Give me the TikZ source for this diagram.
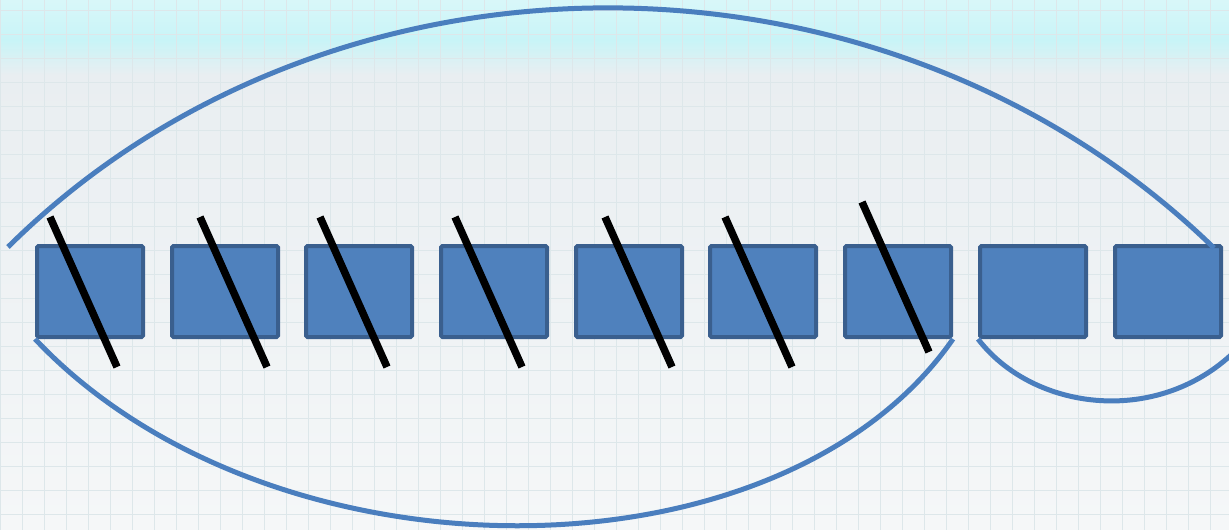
\documentclass[tikz,border=0pt]{standalone}
\usepackage{xcolor}
\usepackage{tikz}
\definecolor{tallyfill}{HTML}{4F81BD}
\definecolor{tallyedge}{HTML}{3A5F8E}
\definecolor{tallyline}{HTML}{4A7EBE}
\definecolor{bandcyan}{HTML}{C8F4F7}
\definecolor{paperlow}{HTML}{F5F7F8}
\definecolor{papertop}{HTML}{E9EEF1}
\definecolor{gridline}{HTML}{DDE7EA}
\tikzset{
  tallypicture/.style={x=1pt, y=-1pt},
  tallybox/.style={draw=tallyedge, fill=tallyfill, line width=4pt, rounded corners=1.5pt, inner sep=0pt, minimum width=106pt, minimum height=91pt},
  tallyslash/.style={black, line width=7.5pt},
  tallyarc/.style={tallyline, line width=5pt}
}
\begin{document}
\begin{tikzpicture}[tallypicture]
\useasboundingbox (0,0) rectangle (1229,530);
% paper background with the cyan band
\shade[top color=bandcyan!70!white, bottom color=bandcyan] (0,0) rectangle (1229,40);
\shade[top color=bandcyan, bottom color=papertop] (0,40) rectangle (1229,75);
\shade[top color=papertop, bottom color=paperlow] (0,75) rectangle (1229,530);
\foreach \gx in {0,22,...,1229} \draw[gridline, line width=0.7pt] (\gx,0) -- (\gx,530);
\foreach \gy in {10,34,...,530} \draw[gridline, line width=0.7pt] (0,\gy) -- (1229,\gy);
% the row of boxes
\foreach \i/\cx in {1/90, 2/225, 3/359, 4/494, 5/629, 6/763, 7/898, 8/1033, 9/1168}
  \node[tallybox] (b\i) at (\cx,291.5) {};
% strokes across the first seven boxes
\foreach \i/\dx/\dy in {1/-40/0, 2/-25/0, 3/-39/0, 4/-39/0, 5/-24/0, 6/-38/0, 7/-36/-15}
  \draw[tallyslash] ([shift={(\dx,-74.5+\dy)}]b\i.center) -- ++(67,150);
% arcs
\coordinate (leftend) at (8,247);
\coordinate (topend) at (1214,248);
\coordinate (rightend) at (1262,318);
\draw[tallyarc] (leftend) .. controls (330,-72) and (885,-72) .. (topend);
\draw[tallyarc] (b1.south west) .. controls (270,588) and (780,588) .. (b7.south east);
\draw[tallyarc] (b8.south west) .. controls (1040,420) and (1190,430) .. (rightend);
\end{tikzpicture}
\end{document}
